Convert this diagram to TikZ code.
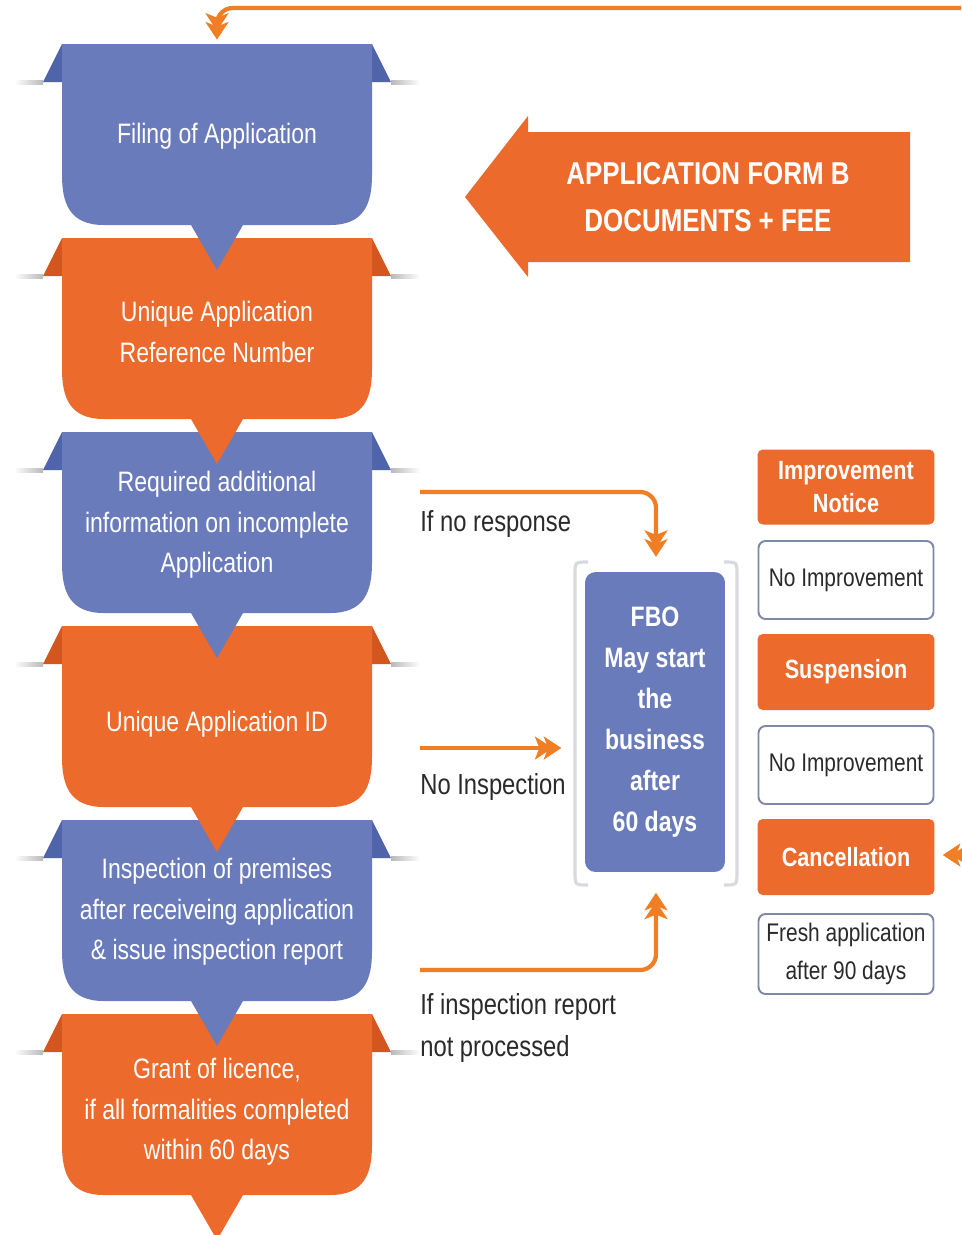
\documentclass[tikz,border=0pt]{standalone}
\usepackage{fontspec}
\setmainfont{Liberation Sans}[FakeStretch=0.82]
\usetikzlibrary{arrows.meta}

\definecolor{appblue}{HTML}{6A7BBC}
\definecolor{appbluedark}{HTML}{5064AA}
\definecolor{apporange}{HTML}{EC6A2C}
\definecolor{apporangedark}{HTML}{D2561E}
\definecolor{arroworange}{HTML}{EF7E24}
\definecolor{framegray}{HTML}{D8DADF}
\definecolor{boxline}{HTML}{8088AA}
\definecolor{labeltext}{HTML}{2A2A2A}

\begin{document}
\begin{tikzpicture}[x=0.02cm, y=-0.02cm,
    flow/.style={draw=arroworange, line width=2.4pt,
      -{Stealth[length=10pt,width=13pt,inset=2.5pt,sep=-5pt]Stealth[length=10pt,width=13pt,inset=2.5pt]}},
    steptext/.style={text=white, align=center, font=\fontsize{16}{23}\selectfont},
    flowlabel/.style={text=labeltext, anchor=west, align=left, inner sep=0pt, font=\fontsize{16.5}{23.5}\selectfont},
    alertbox/.style={fill=apporange, rounded corners=3pt, minimum width=3.54cm, text=white,
      align=center, font=\bfseries\fontsize{15}{18.5}\selectfont},
    notebox/.style={draw=boxline, line width=1.1pt, fill=white, rounded corners=4pt, minimum width=3.5cm,
      text=labeltext, align=center, font=\fontsize{14.5}{21.5}\selectfont}]
  \useasboundingbox (0,0) rectangle (961,1235);
  \fill[white] (0,0) rectangle (961,1235);

  % Left column: ribbon steps, drawn bottom-up so each pointer lies on the next step
  \foreach \T/\ty/\col/\dk/\nm/\txt in {
      1014/1112/apporange/apporangedark/grant/{Grant of licence,\\if all formalities completed\\within 60 days},
      820/912/appblue/appbluedark/inspect/{Inspection of premises\\after receiveing application\\\& issue inspection report},
      626/724/apporange/apporangedark/appid/{Unique Application ID},
      432/525/appblue/appbluedark/addinfo/{Required additional\\information on incomplete\\Application},
      238/332/apporange/apporangedark/refno/{Unique Application\\Reference Number},
      44/136/appblue/appbluedark/filing/{Filing of Application}}
  {
    % Shadows beside the ears
    \shade[left color=white, right color=gray!55] (14,\T+36) rectangle (43,\T+40);
    \shade[left color=gray!55, right color=white] (391,\T+36) rectangle (420,\T+40);
    % Ears
    \fill[fill=\dk] (62,\T) -- (43,\T+38) -- (62,\T+38) -- cycle;
    \fill[fill=\dk] (372,\T) -- (391,\T+38) -- (372,\T+38) -- cycle;
    % Body with pointer
    \fill[fill=\col] (62,\T) -- (372,\T) -- (372,\T+131) .. controls (372,\T+160) and (364,\T+181) .. (330,\T+181)
      -- (243,\T+181) -- (217,\T+226) -- (191,\T+181) -- (104,\T+181)
      .. controls (70,\T+181) and (62,\T+160) .. (62,\T+131) -- cycle;
    \node[steptext] (\nm) at (217,\ty) {\txt};
    \coordinate (\nm-top) at (217,\T);
  }

  % Feedback into filing
  \coordinate (loopin) at (961,8);
  \draw[flow, rounded corners=9pt, shorten >=2.5pt] (loopin) -| (filing-top);

  % Application form arrow
  \fill[apporange] (465,197) -- (528,116) -- (528,132) -- (910,132) -- (910,262)
    -- (528,262) -- (528,277) -- cycle;
  \node[text=white, align=center, font=\bfseries\fontsize{18}{26.5}\selectfont] (formb) at (708,197)
    {APPLICATION FORM B\\DOCUMENTS + FEE};

  % FBO box with bracket frame
  \node[minimum width=3.28cm, minimum height=6.46cm, inner sep=0pt] (fboframe) at (656,723) {};
  \draw[framegray, line width=1.8pt] (588,562) .. controls (575,562) .. (575,575) -- (575,872)
    .. controls (575,885) .. (588,885);
  \draw[framegray, line width=1.8pt] (724,562) .. controls (737,562) .. (737,575) -- (737,872)
    .. controls (737,885) .. (724,885);
  \node[fill=appblue, rounded corners=6pt, minimum width=2.8cm, minimum height=6cm, text=white,
    align=center, font=\bfseries\fontsize{16}{23.3}\selectfont] (fbo) at (655,722)
    {FBO\\May start\\the\\business\\after\\60 days};

  % Connectors into FBO
  \coordinate (noresp) at (420,492);
  \draw[flow, rounded corners=9pt, shorten >=2.5pt] (noresp) -| (fboframe.north);
  \node[flowlabel] (norespl) at (420,524) {If no response};

  \coordinate (noinsp) at (420,748);
  \draw[flow, shorten >=7pt] (noinsp) -- (noinsp -| fboframe.west);
  \node[flowlabel] (noinspl) at (420,787) {No Inspection};

  \coordinate (notproc) at (420,970);
  \draw[flow, rounded corners=9pt, shorten >=4.5pt] (notproc) -| (fboframe.south);
  \node[flowlabel] (notprocl) at (420,1028) {If inspection report\\not processed};

  % Right column: enforcement steps
  \node[alertbox, minimum height=1.5cm] (notice) at (846,487) {Improvement\\Notice};
  \node[notebox, minimum height=1.56cm] (noimp1) at (846,580) {No Improvement};
  \node[alertbox, minimum height=1.52cm] (suspend) at (846,672) {Suspension};
  \node[notebox, minimum height=1.56cm] (noimp2) at (846,765) {No Improvement};
  \node[alertbox, minimum height=1.52cm] (cancel) at (846,857) {Cancellation};
  \node[notebox, minimum height=1.6cm] (fresh) at (846,954) {Fresh application\\after 90 days};

  % Arrow into cancellation
  \coordinate (cancelin) at (961,855);
  \draw[flow, shorten >=4.5pt] (cancelin) -- (cancelin -| cancel.east);
\end{tikzpicture}
\end{document}
